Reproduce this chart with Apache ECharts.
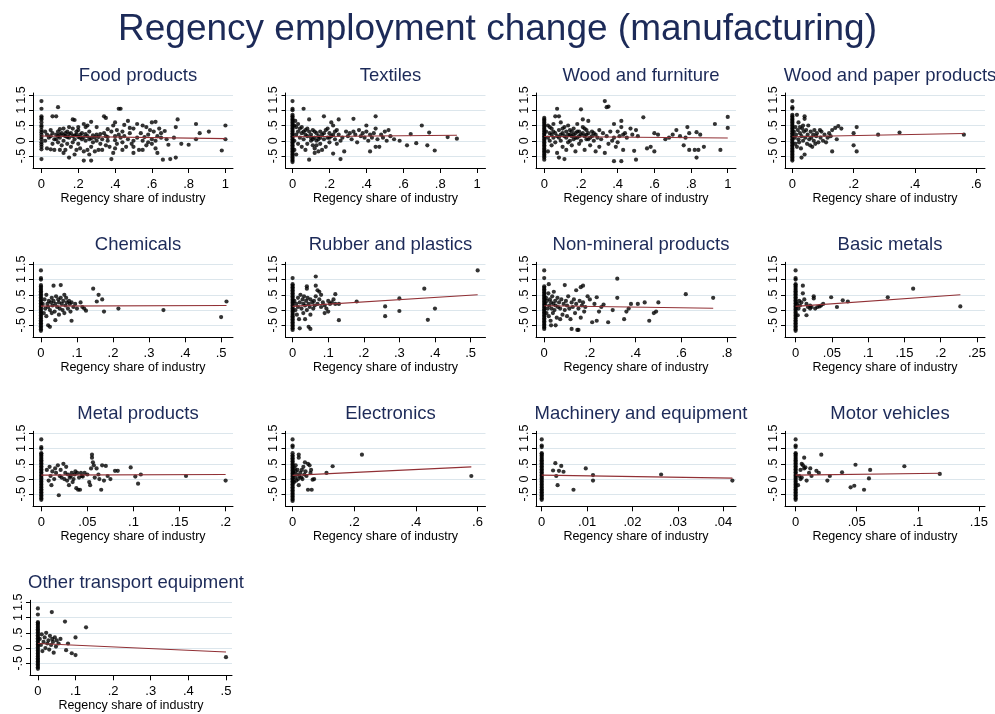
<!DOCTYPE html>
<html><head><meta charset="utf-8">
<script src="https://cdn.jsdelivr.net/npm/echarts@6/dist/echarts.min.js"></script>
<style>html,body{margin:0;padding:0;background:#fff}#c{width:995px;height:714px}</style>
</head><body><div id="c"></div>
<script>
// ---------- tick labels ----------
const yTicks = [-0.5, 0, 0.5, 1, 1.5];
const ticks1 = [0, 0.2, 0.4, 0.6, 0.8, 1];
const ticks06 = [0, 0.2, 0.4, 0.6];
const ticks05 = [0, 0.1, 0.2, 0.3, 0.4, 0.5];
const ticks08 = [0, 0.2, 0.4, 0.6, 0.8];
const ticks025 = [0, 0.05, 0.1, 0.15, 0.2, 0.25];
const ticks02 = [0, 0.05, 0.1, 0.15, 0.2];
const ticks004 = [0, 0.01, 0.02, 0.03, 0.04];
const ticks015 = [0, 0.05, 0.1, 0.15];

// ---------- Food products ----------
const foodZero = [1.3,1.05,0.8,0.75,0.7,0.6,0.5,0.45,0.35,0.28,0.2,0.12,0.05,-0.05,-0.12,-0.2,-0.28,-0.6];
const foodPts = [[0.06,0.8],[0.08,0.8],[0.09,1.1],[0.17,0.7],[0.18,0.68],[0.27,0.62],[0.34,0.8],[0.35,0.75],[0.3,0.45],[0.23,0.55],[0.25,0.5],[0.47,0.65],[0.52,0.55],[0.55,0.5],[0.6,0.6],[0.62,0.62],[0.42,1.05],[0.43,1.05],[0.45,0.52],[0.39,0.5],[0.36,0.38],[0.38,0.3],[0.41,0.35],[0.44,0.3],[0.48,0.42],[0.5,0.4],[0.57,0.45],[0.59,0.35],[0.61,0.3],[0.64,0.4],[0.67,0.32],[0.65,0.1],[0.63,0.15],[0.6,0.05],[0.58,0.2],[0.56,0.12],[0.54,0.25],[0.52,0.1],[0.5,0.0],[0.49,-0.1],[0.5,-0.2],[0.5,-0.4],[0.53,-0.3],[0.55,-0.3],[0.57,-0.15],[0.6,-0.1],[0.62,-0.25],[0.63,-0.4],[0.46,-0.2],[0.44,-0.05],[0.43,0.1],[0.41,-0.1],[0.4,-0.25],[0.38,-0.6],[0.39,-0.4],[0.37,-0.2],[0.36,0.0],[0.35,0.15],[0.34,0.25],[0.33,0.05],[0.32,-0.1],[0.31,-0.3],[0.3,0.2],[0.29,0.1],[0.28,-0.05],[0.27,-0.2],[0.27,-0.65],[0.26,0.3],[0.25,0.15],[0.24,0.0],[0.23,-0.35],[0.23,-0.65],[0.22,0.25],[0.21,0.1],[0.2,-0.1],[0.2,0.35],[0.19,0.2],[0.18,-0.45],[0.18,0.05],[0.17,0.4],[0.16,0.25],[0.16,-0.2],[0.15,-0.55],[0.15,0.1],[0.14,0.3],[0.13,0.15],[0.13,-0.3],[0.12,0.4],[0.12,0.0],[0.11,0.25],[0.1,0.1],[0.1,-0.3],[0.09,0.3],[0.09,-0.05],[0.08,0.2],[0.07,0.05],[0.07,-0.3],[0.06,0.25],[0.05,0.35],[0.05,-0.28],[0.04,0.1],[0.03,0.2],[0.03,-0.25],[0.02,0.0],[0.02,0.3],[0.66,-0.62],[0.7,-0.6],[0.73,-0.55],[0.74,0.7],[0.73,0.45],[0.68,0.05],[0.69,-0.13],[0.72,0.1],[0.76,-0.1],[0.8,-0.13],[0.84,0.55],[0.84,0.05],[0.86,0.25],[0.91,0.3],[0.98,-0.32],[1.0,0.5],[1.0,0.05],[0.1,0.2],[0.12,0.18],[0.14,0.12],[0.15,0.22],[0.17,0.15],[0.19,0.3],[0.2,0.12],[0.21,0.2],[0.22,0.05],[0.24,0.22],[0.26,0.05],[0.28,0.18],[0.3,0.0],[0.32,0.22],[0.06,-0.1],[0.08,0.05],[0.11,-0.15],[0.14,-0.1],[0.17,-0.05],[0.19,-0.3],[0.21,-0.25],[0.25,-0.3],[0.29,-0.35],[0.33,-0.3],[0.35,-0.15],[0.4,0.15],[0.42,0.2],[0.45,0.15],[0.47,0.05],[0.48,0.25],[0.24,0.45],[0.2,0.45],[0.15,0.45],[0.1,0.38],[0.4,0.6],[0.26,-0.45],[0.12,-0.4],[0.44,-0.3],[0.55,0.0],[0.58,-0.05],[0.62,0.0],[0.65,0.25],[0.4,0.02],[0.36,0.12],[0.31,0.12],[0.27,0.08],[0.23,0.12],[0.18,0.18],[0.13,0.25],[0.09,0.15],[0.05,0.15]];
const foodFit = [[0,0.155],[1,0.07]];

// ---------- Textiles ----------
const textZero = [-0.7,-0.65,-0.6,-0.55,-0.5,-0.45,-0.4,-0.35,-0.3,-0.25,-0.2,-0.15,-0.1,-0.05,0,0.05,0.1,0.15,0.2,0.25,0.3,0.35,0.4,0.45,0.5,0.55,0.6,0.65,0.7,0.75,0.8,0.85,1.0,1.05,1.3];
const textPts = [[0.01,0.5],[0.02,0.45],[0.02,0.2],[0.03,0.3],[0.03,-0.1],[0.04,0.1],[0.04,0.4],[0.05,-0.2],[0.05,0.25],[0.06,1.05],[0.06,0.05],[0.07,0.35],[0.07,-0.3],[0.08,0.15],[0.08,-0.1],[0.09,0.7],[0.09,-0.62],[0.09,0.3],[0.1,0.0],[0.1,0.2],[0.11,-0.15],[0.11,0.35],[0.12,0.1],[0.12,-0.25],[0.13,0.25],[0.13,0.0],[0.14,-0.35],[0.14,0.15],[0.15,0.3],[0.15,-0.1],[0.16,-0.3],[0.16,0.2],[0.17,0.8],[0.17,0.05],[0.18,0.35],[0.18,-0.2],[0.19,0.1],[0.2,0.25],[0.2,-0.05],[0.21,0.6],[0.21,0.15],[0.22,-0.42],[0.22,0.5],[0.23,0.05],[0.24,0.35],[0.25,0.7],[0.25,0.2],[0.26,-0.6],[0.26,0.0],[0.27,0.1],[0.28,-0.35],[0.29,0.3],[0.3,0.15],[0.31,0.25],[0.32,0.05],[0.33,0.72],[0.33,0.3],[0.34,0.2],[0.35,-0.05],[0.36,0.35],[0.37,0.15],[0.38,0.25],[0.39,0.1],[0.4,0.5],[0.4,0.3],[0.41,0.0],[0.42,-0.35],[0.42,0.2],[0.43,0.1],[0.44,0.25],[0.45,0.8],[0.45,0.4],[0.45,-0.2],[0.46,0.05],[0.47,-0.2],[0.48,0.2],[0.49,0.1],[0.5,0.3],[0.51,0.0],[0.52,0.35],[0.53,0.15],[0.55,0.05],[0.58,0.0],[0.62,-0.15],[0.64,0.22],[0.67,-0.08],[0.7,0.5],[0.73,-0.15],[0.74,0.27],[0.77,-0.32],[0.84,0.12],[0.89,0.07],[0.01,0.0],[0.01,-0.3],[0.02,-0.45],[0.015,0.65],[0.03,0.55],[0.05,0.45],[0.06,0.3],[0.07,0.2],[0.08,0.4],[0.1,0.1],[0.11,0.05],[0.12,0.3],[0.13,-0.15],[0.14,0.05],[0.15,0.1],[0.17,0.25],[0.19,0.4],[0.2,0.1],[0.22,0.2],[0.23,0.3],[0.24,-0.1],[0.12,-0.4]];
const textFit = [[0,0.13],[0.89,0.18]];

// ---------- Wood and furniture ----------
const woodZero = [-0.62,-0.55,-0.5,-0.45,-0.4,-0.35,-0.3,-0.25,-0.2,-0.15,-0.1,-0.05,0,0.05,0.1,0.15,0.2,0.25,0.3,0.35,0.4,0.45,0.5,0.55,0.6,0.65,0.7,0.75];
const woodPts = [[0.01,0.3],[0.02,0.1],[0.02,-0.35],[0.03,0.45],[0.03,0.0],[0.04,0.2],[0.04,-0.15],[0.05,0.55],[0.05,0.3],[0.06,0.8],[0.06,-0.05],[0.07,1.05],[0.07,0.15],[0.07,-0.4],[0.08,0.8],[0.08,-0.55],[0.08,0.35],[0.09,0.6],[0.09,0.0],[0.1,0.25],[0.1,-0.2],[0.11,-0.6],[0.11,0.45],[0.12,0.1],[0.12,-0.3],[0.13,0.5],[0.13,0.2],[0.14,0.0],[0.14,0.35],[0.15,0.15],[0.15,-0.15],[0.16,0.4],[0.16,0.05],[0.17,0.25],[0.17,-0.35],[0.18,0.55],[0.18,0.1],[0.19,0.3],[0.19,-0.1],[0.2,1.03],[0.2,0.2],[0.2,0.0],[0.21,0.45],[0.21,0.7],[0.22,0.15],[0.22,-0.3],[0.23,0.35],[0.23,0.05],[0.24,0.65],[0.24,0.25],[0.25,0.1],[0.25,-0.15],[0.26,0.3],[0.27,0.0],[0.28,0.2],[0.28,-0.35],[0.29,0.1],[0.3,0.35],[0.3,-0.2],[0.31,0.05],[0.32,0.25],[0.33,1.3],[0.33,-0.4],[0.34,1.1],[0.35,1.12],[0.34,0.15],[0.35,-0.1],[0.36,0.3],[0.37,0.0],[0.38,0.55],[0.38,-0.67],[0.38,0.1],[0.39,-0.2],[0.4,0.3],[0.4,-0.05],[0.41,0.15],[0.42,0.65],[0.42,-0.67],[0.42,0.45],[0.43,-0.3],[0.43,0.2],[0.44,0.25],[0.45,0.1],[0.47,0.4],[0.48,0.2],[0.49,-0.33],[0.5,-0.62],[0.5,0.35],[0.51,0.15],[0.54,0.77],[0.56,-0.25],[0.58,-0.2],[0.6,-0.35],[0.6,0.25],[0.62,0.2],[0.66,0.05],[0.68,0.1],[0.7,0.2],[0.72,0.35],[0.74,0.15],[0.77,0.1],[0.78,0.45],[0.79,0.25],[0.76,-0.15],[0.79,-0.3],[0.82,-0.3],[0.83,-0.55],[0.84,-0.3],[0.85,0.2],[0.83,0.28],[0.87,-0.2],[0.93,0.55],[0.96,-0.3],[1.0,0.78],[1.0,0.42],[0.05,0.1],[0.06,0.25],[0.08,0.1],[0.09,0.2],[0.1,0.4],[0.11,0.15],[0.12,0.3],[0.13,-0.05],[0.14,0.2],[0.15,0.3],[0.16,0.2],[0.17,0.1],[0.18,0.3],[0.19,0.15],[0.21,0.25],[0.22,0.4],[0.23,0.2],[0.24,0.05],[0.26,0.15],[0.27,0.25],[0.03,0.25],[0.04,0.4],[0.02,0.5]];
const woodFit = [[0,0.14],[1,0.09]];

// ---------- Wood and paper products ----------
const paperZero = [-0.65,-0.6,-0.55,-0.5,-0.45,-0.4,-0.35,-0.3,-0.25,-0.2,-0.15,-0.1,-0.05,0,0.05,0.1,0.15,0.2,0.25,0.3,0.35,0.4,0.45,0.5,0.55,0.6,0.65,0.7,0.75,0.8,0.85,1.05,1.1,1.3];
const paperPts = [[0.005,0.3],[0.008,0.1],[0.01,-0.1],[0.01,0.45],[0.012,0.2],[0.015,0.85],[0.015,-0.2],[0.018,0.35],[0.02,0.05],[0.02,0.6],[0.022,-0.05],[0.025,0.25],[0.025,0.45],[0.028,-0.25],[0.03,0.15],[0.03,-0.55],[0.032,0.4],[0.035,0.5],[0.035,0.0],[0.038,0.3],[0.04,0.8],[0.04,0.72],[0.04,-0.45],[0.042,0.1],[0.045,0.35],[0.048,-0.1],[0.05,0.2],[0.052,0.5],[0.055,0.05],[0.058,-0.15],[0.06,0.3],[0.062,0.1],[0.065,-0.2],[0.068,0.2],[0.07,0.0],[0.072,0.35],[0.075,-0.1],[0.078,0.15],[0.08,0.25],[0.085,-0.05],[0.09,0.35],[0.092,0.1],[0.095,0.3],[0.1,0.0],[0.105,0.2],[0.11,-0.05],[0.115,0.1],[0.12,0.25],[0.125,0.15],[0.13,-0.35],[0.13,0.35],[0.14,0.42],[0.145,0.05],[0.15,0.48],[0.16,0.4],[0.2,-0.15],[0.21,-0.35],[0.2,0.25],[0.21,0.45],[0.28,0.2],[0.35,0.27],[0.56,0.2]];
const paperFit = [[0,0.13],[0.56,0.24]];

// ---------- Chemicals ----------
const chemZero = [-0.68,-0.63,-0.58,-0.53,-0.48,-0.43,-0.38,-0.33,-0.28,-0.23,-0.18,-0.13,-0.08,-0.03,0.02,0.07,0.12,0.17,0.22,0.27,0.32,0.37,0.42,0.47,0.52,0.57,0.62,0.67,0.72,0.77,0.82,1.0,1.05,1.3];
const chemPts = [[0.005,0.2],[0.008,-0.1],[0.01,0.35],[0.012,0.05],[0.015,0.5],[0.015,-0.2],[0.018,0.2],[0.02,-0.5],[0.02,0.1],[0.022,0.3],[0.025,-0.55],[0.025,0.0],[0.028,0.25],[0.03,-0.1],[0.03,0.4],[0.032,0.15],[0.035,0.8],[0.035,0.3],[0.038,-0.05],[0.04,0.2],[0.04,-0.33],[0.042,0.45],[0.045,0.1],[0.048,0.35],[0.05,-0.15],[0.05,0.25],[0.052,0.05],[0.055,0.82],[0.055,0.4],[0.058,0.2],[0.06,0.0],[0.062,0.3],[0.065,0.5],[0.065,-0.1],[0.068,0.15],[0.07,0.4],[0.072,0.25],[0.075,0.05],[0.078,0.3],[0.08,0.2],[0.082,-0.05],[0.085,-0.35],[0.085,0.25],[0.09,0.1],[0.095,0.2],[0.1,0.05],[0.11,0.25],[0.12,0.05],[0.125,-0.02],[0.115,0.1],[0.145,0.7],[0.155,0.28],[0.16,0.5],[0.17,0.35],[0.175,-0.05],[0.215,0.05],[0.34,0.0],[0.5,-0.23],[0.515,0.28]];
const chemFit = [[0,0.13],[0.515,0.15]];

// ---------- Rubber and plastics ----------
const rubZero = [-0.65,-0.6,-0.55,-0.5,-0.45,-0.4,-0.35,-0.3,-0.25,-0.2,-0.15,-0.1,-0.05,0,0.05,0.1,0.15,0.2,0.25,0.3,0.35,0.4,0.45,0.5,0.55,0.6,0.65,0.7,0.75,0.8,0.85,1.05];
const rubPts = [[0.005,0.3],[0.008,0.0],[0.01,0.2],[0.012,-0.15],[0.015,0.4],[0.015,0.1],[0.018,-0.3],[0.02,0.25],[0.02,-0.6],[0.022,0.5],[0.025,0.05],[0.028,0.35],[0.03,-0.1],[0.03,0.2],[0.032,0.45],[0.035,-0.3],[0.035,0.15],[0.038,0.3],[0.04,0.78],[0.04,0.7],[0.04,0.0],[0.042,0.4],[0.045,-0.55],[0.045,0.2],[0.048,0.1],[0.05,-0.62],[0.05,-0.15],[0.05,0.35],[0.055,0.25],[0.058,0.05],[0.06,0.3],[0.062,0.15],[0.065,1.1],[0.065,0.8],[0.065,0.45],[0.07,0.65],[0.07,0.2],[0.075,0.6],[0.075,0.35],[0.08,0.5],[0.08,0.1],[0.085,0.25],[0.09,0.15],[0.09,-0.1],[0.095,0.05],[0.1,-0.05],[0.1,0.3],[0.105,0.2],[0.11,0.25],[0.115,0.35],[0.12,0.52],[0.12,0.2],[0.13,-0.33],[0.13,0.2],[0.18,0.28],[0.26,0.12],[0.26,-0.2],[0.3,0.38],[0.3,-0.03],[0.37,0.7],[0.38,-0.32],[0.4,0.05],[0.52,1.3]];
const rubFit = [[0,0.12],[0.52,0.5]];

// ---------- Non-mineral products ----------
const nonZero = [-0.62,-0.57,-0.52,-0.47,-0.42,-0.37,-0.32,-0.27,-0.22,-0.17,-0.12,-0.07,-0.02,0.03,0.08,0.13,0.18,0.23,0.28,0.33,0.38,0.43,0.48,0.53,0.58,0.63,0.68,0.73,0.78,1.05,1.3];
const nonPts = [[0.005,0.2],[0.008,0.4],[0.01,-0.1],[0.012,0.3],[0.015,0.05],[0.018,0.55],[0.02,0.85],[0.02,-0.2],[0.022,0.15],[0.025,0.35],[0.028,-0.35],[0.03,0.25],[0.03,-0.5],[0.032,0.05],[0.035,0.45],[0.038,-0.1],[0.04,0.2],[0.042,0.6],[0.045,0.0],[0.048,0.3],[0.05,-0.5],[0.05,0.15],[0.055,-0.25],[0.058,0.4],[0.06,0.1],[0.065,0.25],[0.07,-0.3],[0.07,0.05],[0.075,0.35],[0.08,-0.15],[0.085,0.2],[0.09,0.82],[0.09,0.0],[0.095,0.3],[0.1,-0.2],[0.1,0.15],[0.105,0.45],[0.11,0.05],[0.115,-0.3],[0.12,-0.62],[0.12,0.25],[0.125,0.1],[0.13,0.35],[0.135,-0.1],[0.14,0.65],[0.14,0.2],[0.145,-0.65],[0.15,-0.65],[0.15,0.05],[0.155,0.3],[0.16,0.75],[0.16,-0.25],[0.165,0.15],[0.17,0.8],[0.17,0.25],[0.175,-0.05],[0.18,0.1],[0.19,0.45],[0.2,0.35],[0.21,-0.4],[0.22,0.2],[0.23,-0.35],[0.23,0.42],[0.24,-0.05],[0.25,0.1],[0.26,0.18],[0.28,-0.4],[0.3,0.0],[0.32,1.03],[0.32,0.4],[0.35,-0.3],[0.36,-0.05],[0.37,0.05],[0.38,0.2],[0.41,0.2],[0.44,0.25],[0.46,-0.35],[0.48,-0.1],[0.49,-0.05],[0.5,0.25],[0.62,0.52],[0.74,0.4]];
const nonFit = [[0,0.14],[0.74,0.06]];

// ---------- Basic metals ----------
const basicZero = [-0.68,-0.63,-0.58,-0.53,-0.48,-0.43,-0.38,-0.33,-0.28,-0.23,-0.18,-0.13,-0.08,-0.03,0.02,0.07,0.12,0.17,0.22,0.27,0.32,0.37,0.42,0.47,0.52,0.57,0.62,0.67,0.72,0.77,0.82,0.85,1.0,1.05,1.3];
const basicPts = [[0.002,0.2],[0.003,-0.17],[0.004,0.05],[0.005,0.3],[0.006,0.15],[0.008,0.25],[0.01,0.8],[0.01,0.55],[0.012,0.35],[0.012,0.0],[0.015,0.2],[0.015,-0.17],[0.017,0.1],[0.02,0.05],[0.02,0.15],[0.022,0.1],[0.025,0.45],[0.025,0.38],[0.027,0.05],[0.03,0.1],[0.033,0.12],[0.035,0.15],[0.038,0.2],[0.049,0.42],[0.057,0.1],[0.065,0.32],[0.072,0.28],[0.127,0.42],[0.162,0.7],[0.227,0.12]];
const basicFit = [[0,0.12],[0.227,0.5]];

// ---------- Metal products ----------
const metalZero = [-0.68,-0.63,-0.58,-0.53,-0.48,-0.43,-0.38,-0.33,-0.28,-0.23,-0.18,-0.13,-0.08,-0.03,0.02,0.07,0.12,0.17,0.22,0.27,0.32,0.37,0.42,0.47,0.52,0.57,0.62,0.67,0.72,0.77,0.82,0.85,1.0,1.05,1.3];
const metalPts = [[0.006,0.3],[0.008,-0.05],[0.009,0.4],[0.01,0.1],[0.011,-0.2],[0.012,0.25],[0.014,0.0],[0.015,0.35],[0.016,0.2],[0.018,0.45],[0.019,-0.53],[0.02,0.1],[0.021,0.3],[0.022,0.05],[0.024,0.5],[0.025,0.0],[0.026,0.2],[0.027,0.4],[0.028,-0.05],[0.029,0.15],[0.03,-0.2],[0.031,0.05],[0.032,0.1],[0.033,0.2],[0.034,-0.1],[0.035,0.0],[0.036,0.15],[0.037,0.25],[0.038,-0.3],[0.039,0.2],[0.04,-0.35],[0.041,0.05],[0.042,-0.35],[0.043,0.2],[0.044,0.1],[0.045,0.08],[0.047,0.2],[0.05,0.15],[0.052,-0.1],[0.053,-0.2],[0.054,0.35],[0.055,0.8],[0.055,0.7],[0.056,0.55],[0.057,0.45],[0.058,0.05],[0.06,0.35],[0.062,0.15],[0.063,0.0],[0.065,-0.35],[0.066,0.45],[0.068,-0.05],[0.07,0.43],[0.072,0.1],[0.075,0.0],[0.08,0.27],[0.083,0.27],[0.097,0.38],[0.102,0.08],[0.105,-0.15],[0.108,0.15],[0.157,0.1],[0.2,-0.05]];
const metalFit = [[0,0.13],[0.2,0.15]];

// ---------- Electronics ----------
const elecZero = [-0.72,-0.67,-0.62,-0.57,-0.52,-0.47,-0.42,-0.37,-0.32,-0.27,-0.22,-0.17,-0.12,-0.07,-0.02,0.03,0.08,0.13,0.18,0.23,0.28,0.33,0.38,0.43,0.48,0.53,0.58,0.63,0.68,0.73,0.78,0.85,1.05,1.1,1.3];
const elecPts = [[0.003,0.2],[0.005,-0.1],[0.007,0.35],[0.008,0.05],[0.01,0.45],[0.01,0.25],[0.012,-0.05],[0.014,0.15],[0.016,0.3],[0.018,0.0],[0.02,0.8],[0.02,0.7],[0.02,-0.2],[0.022,0.1],[0.025,0.2],[0.028,0.05],[0.03,0.3],[0.032,0.0],[0.035,0.4],[0.038,0.15],[0.04,0.55],[0.042,0.25],[0.045,0.1],[0.05,0.5],[0.05,-0.35],[0.055,0.45],[0.058,0.2],[0.06,0.3],[0.062,-0.35],[0.065,-0.02],[0.07,0.0],[0.11,0.2],[0.13,0.42],[0.225,0.8],[0.58,0.1]];
const elecFit = [[0,0.12],[0.58,0.4]];

// ---------- Machinery and equipment ----------
const machZero = [-0.68,-0.63,-0.58,-0.53,-0.48,-0.43,-0.38,-0.33,-0.28,-0.23,-0.18,-0.13,-0.08,-0.03,0.02,0.07,0.12,0.17,0.22,0.27,0.32,0.37,0.42,0.47,0.52,0.57,0.62,0.67,0.72,0.77,0.82,0.85,1.05,1.1,1.3];
const machPts = [[0.0025,0.28],[0.003,0.52],[0.0032,0.1],[0.0035,-0.2],[0.0038,0.27],[0.0043,0.43],[0.0048,0.24],[0.007,-0.35],[0.0097,0.35],[0.0113,0.13],[0.0113,-0.05],[0.0263,0.15],[0.042,-0.05]];
const machFit = [[0,0.13],[0.042,0.03]];

// ---------- Motor vehicles ----------
const motorZero = [-0.68,-0.63,-0.58,-0.53,-0.48,-0.43,-0.38,-0.33,-0.28,-0.23,-0.18,-0.13,-0.08,-0.03,0.02,0.07,0.12,0.17,0.22,0.27,0.32,0.37,0.42,0.47,0.52,0.57,0.62,0.67,0.72,0.77,0.82,0.85,1.05,1.1,1.3];
const motorPts = [[0.003,0.1],[0.004,0.3],[0.005,0.5],[0.006,0.45],[0.007,0.35],[0.007,0.7],[0.009,-0.05],[0.008,0.38],[0.002,-0.2],[0.004,0.0],[0.005,0.05],[0.011,0.2],[0.012,0.35],[0.013,0.1],[0.017,0.27],[0.019,0.2],[0.021,0.8],[0.026,-0.05],[0.028,0.1],[0.038,0.22],[0.045,-0.27],[0.048,-0.22],[0.049,0.47],[0.056,-0.35],[0.06,0.02],[0.061,0.3],[0.089,0.42],[0.118,0.17]];
const motorFit = [[0,0.13],[0.118,0.19]];

// ---------- Other transport equipment ----------
const otherZero = [-0.68,-0.63,-0.58,-0.53,-0.48,-0.43,-0.38,-0.33,-0.28,-0.23,-0.18,-0.13,-0.08,-0.03,0.02,0.07,0.12,0.17,0.22,0.27,0.32,0.37,0.42,0.47,0.52,0.57,0.62,0.67,0.72,0.77,0.82,0.85,1.1,1.3];
const otherPts = [[0.005,0.3],[0.008,0.1],[0.01,0.45],[0.012,-0.1],[0.015,0.2],[0.018,0.35],[0.02,0.0],[0.022,0.5],[0.025,0.15],[0.028,0.25],[0.03,-0.05],[0.032,0.4],[0.035,0.1],[0.037,1.18],[0.038,0.3],[0.04,0.2],[0.042,-0.15],[0.045,0.35],[0.048,0.05],[0.05,0.25],[0.055,0.15],[0.06,0.3],[0.072,0.87],[0.075,-0.07],[0.08,0.15],[0.09,-0.17],[0.1,-0.23],[0.1,0.35],[0.128,0.68],[0.5,-0.3]];
const otherFit = [[0,0.15],[0.5,-0.13]];

// ---------- panel layout ----------
const colLeft = [33, 285.5, 536, 785];
const rowTop = [93, 262.3, 431.3, 600.3];
const panels = [
  {name:'Food products', zero:foodZero, pts:foodPts, fit:foodFit, ticks:ticks1, min:-0.046, max:1.041, r:0, c:0},
  {name:'Textiles', zero:textZero, pts:textPts, fit:textFit, ticks:ticks1, min:-0.038, max:1.045, r:0, c:1},
  {name:'Wood and furniture', zero:woodZero, pts:woodPts, fit:woodFit, ticks:ticks1, min:-0.045, max:1.045, r:0, c:2},
  {name:'Wood and paper products', zero:paperZero, pts:paperPts, fit:paperFit, ticks:ticks06, min:-0.024, max:0.629, r:0, c:3},
  {name:'Chemicals', zero:chemZero, pts:chemPts, fit:chemFit, ticks:ticks05, min:-0.022, max:0.533, r:1, c:0},
  {name:'Rubber and plastics', zero:rubZero, pts:rubPts, fit:rubFit, ticks:ticks05, min:-0.02, max:0.542, r:1, c:1},
  {name:'Non-mineral products', zero:nonZero, pts:nonPts, fit:nonFit, ticks:ticks08, min:-0.036, max:0.84, r:1, c:2},
  {name:'Basic metals', zero:basicZero, pts:basicPts, fit:basicFit, ticks:ticks025, min:-0.0146, max:0.261, r:1, c:3},
  {name:'Metal products', zero:metalZero, pts:metalPts, fit:metalFit, ticks:ticks02, min:-0.009, max:0.208, r:2, c:0},
  {name:'Electronics', zero:elecZero, pts:elecPts, fit:elecFit, ticks:ticks06, min:-0.023, max:0.626, r:2, c:1},
  {name:'Machinery and equipment', zero:machZero, pts:machPts, fit:machFit, ticks:ticks004, min:-0.00126, max:0.0428, r:2, c:2},
  {name:'Motor vehicles', zero:motorZero, pts:motorPts, fit:motorFit, ticks:ticks015, min:-0.0087, max:0.155, r:2, c:3},
  {name:'Other transport equipment', zero:otherZero, pts:otherPts, fit:otherFit, ticks:ticks05, min:-0.021, max:0.516, r:3, c:0, left:30, width:202}
];

const FONT = 'Liberation Sans, Helvetica, Arial, sans-serif';
const NAVY = '#1c2a58';
const fmt = v => String(+(+v).toFixed(4)).replace(/^0\./, '.').replace(/^-0\./, '-.');

const grids = [], xAxes = [], yAxes = [], series = [], titles = [];
titles.push({text:'Regency employment change (manufacturing)', left:'center', top:6,
  textStyle:{fontFamily:FONT, fontSize:37, fontWeight:'normal', color:NAVY}});
panels.forEach((p, i) => {
  const left = p.left !== undefined ? p.left : colLeft[p.c];
  const width = p.width || 200;
  const top = rowTop[p.r];
  grids.push({left:left, top:top, width:width, height:75, containLabel:false});
  titles.push({text:p.name, left:left + width/2, top:top - 32, textAlign:'center',
    textStyle:{fontFamily:FONT, fontSize:18.5, fontWeight:'normal', color:NAVY}});
  xAxes.push({type:'value', gridIndex:i, min:p.min, max:p.max,
    name:'Regency share of industry', nameLocation:'middle', nameGap:24,
    nameTextStyle:{fontFamily:FONT, fontSize:12.5, color:'#000'},
    axisLine:{show:true, onZero:false, lineStyle:{color:'#000', width:1}},
    axisTick:{show:true, length:5, customValues:p.ticks, lineStyle:{color:'#000'}},
    axisLabel:{customValues:p.ticks, formatter:fmt, margin:10, fontFamily:FONT, fontSize:13, color:'#000'},
    splitLine:{show:false}});
  yAxes.push({type:'value', gridIndex:i, min:-0.893, max:1.566,
    axisLine:{show:true, onZero:false, lineStyle:{color:'#000', width:1}},
    axisTick:{show:true, length:4, customValues:yTicks, lineStyle:{color:'#000'}},
    axisLabel:{customValues:yTicks, formatter:fmt, rotate:90, margin:5, fontFamily:FONT, fontSize:12.5, color:'#000'},
    splitLine:{show:true, lineStyle:{color:'#dce6ec', width:1}}});
  const data = p.zero.map(y => [0, y]).concat(p.pts);
  series.push({type:'scatter', xAxisIndex:i, yAxisIndex:i, data:data, symbol:'circle', symbolSize:4.2,
    itemStyle:{color:'#000'}, silent:true, animation:false, z:2});
  series.push({type:'line', xAxisIndex:i, yAxisIndex:i, data:p.fit, symbol:'none',
    lineStyle:{color:'#913035', width:1.1}, silent:true, animation:false, z:3});
});

const chart = echarts.init(document.getElementById('c'), null, {renderer:'canvas'});
chart.setOption({backgroundColor:'#fff', animation:false, title:titles, grid:grids, xAxis:xAxes, yAxis:yAxes, series:series});
</script></body></html>
